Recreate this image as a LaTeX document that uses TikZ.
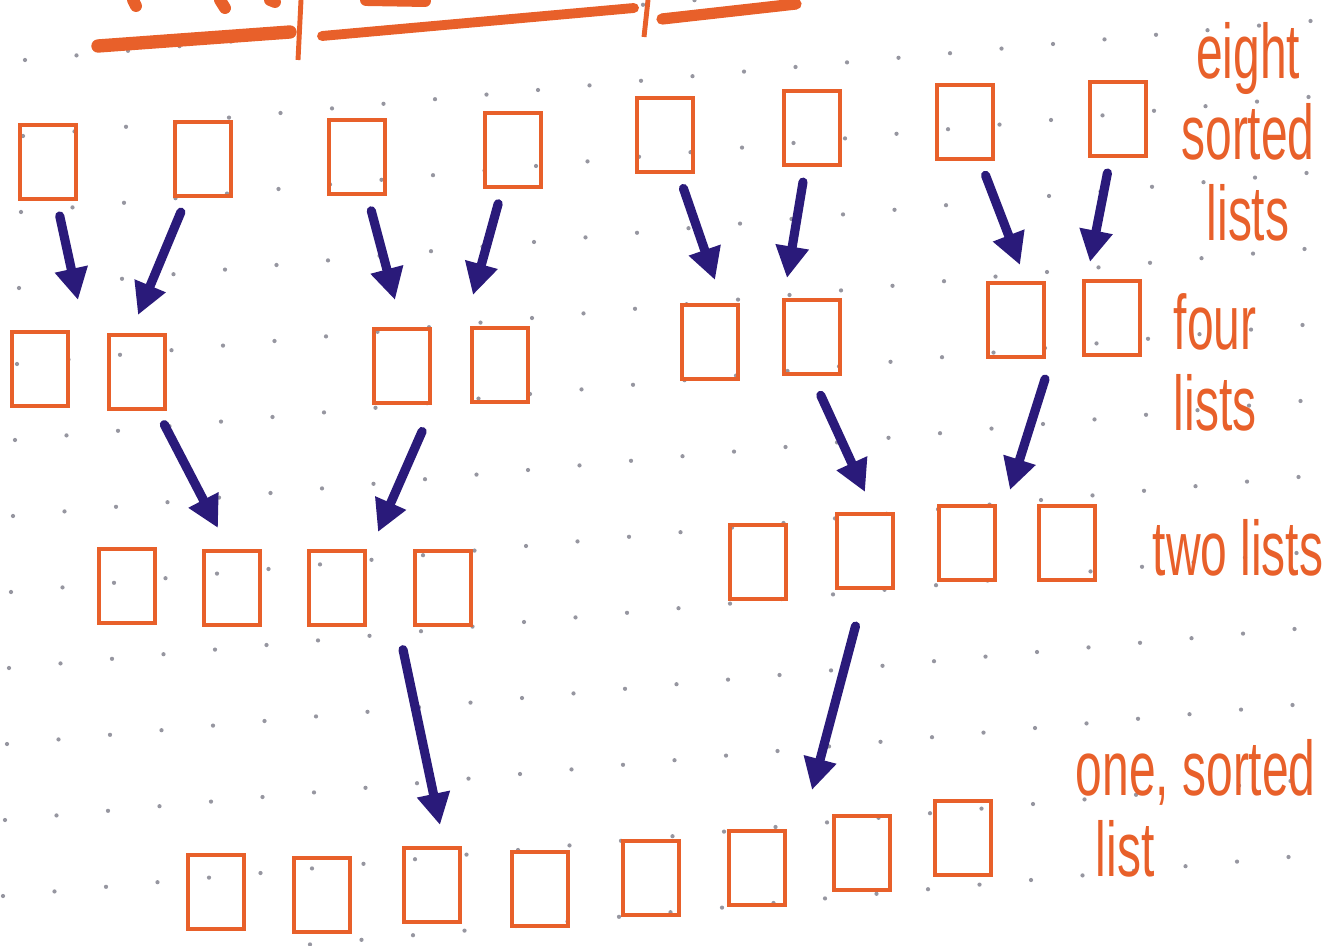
\documentclass[tikz,border=0pt]{standalone}
\usepackage{fontspec}
\setmainfont{Liberation Sans}
\newfontfamily\handfont{Liberation Sans}[FakeStretch=0.62]
\usetikzlibrary{arrows.meta,calc}
\definecolor{pen}{RGB}{232,96,42}
\definecolor{ink}{RGB}{42,26,122}
\definecolor{dotgrey}{RGB}{150,150,160}

\begin{document}
\begin{tikzpicture}[
    x=0.01cm, y=-0.01cm,
    list/.style={draw=pen, line width=1.3pt, minimum width=0.56cm,
      minimum height=0.74cm, inner sep=0pt},
    merge/.style={draw=ink, line width=2.6pt, line cap=round,
      -{Triangle[length=9pt,width=9pt]}, shorten <=0.15cm},
    note/.style={text=pen, font=\handfont\fontsize{22}{23}\selectfont,
      align=center, inner sep=0pt}
  ]
  \useasboundingbox (0,0) rectangle (1337,946);

  % dotted paper
  \begin{scope}
    \clip (0,0) rectangle (1337,946);
    \foreach \i in {-10,...,16}
      \foreach \j in {-8,...,4}
        \fill[dotgrey] ({524+51.5*\i-2*\j},{622+76*\j-4.6*\i}) circle (0.6pt);
  \end{scope}

  % cut-off heading
  \draw[pen, line width=3.8pt, line cap=round] (98,46) -- (290,32);
  \draw[pen, line width=2.8pt, line cap=round] (322,36) -- (634,8);
  \draw[pen, line width=3.2pt, line cap=round] (662,19) -- (796,4);
  \draw[pen, line width=1.4pt] (301,0) -- (298,60) (648,0) -- (644,37);
  \draw[pen, line width=3.4pt, line cap=round]
    (133,0) -- (136,6) (220,0) -- (225,8) (270,0) -- (275,2)
    (366,0) -- (425,1);

  % eight sorted lists
  \foreach \n/\x/\y in {1/48/162, 2/203/159, 3/357/157, 4/513/150,
                        5/665/135, 6/812/128, 7/965/122, 8/1118/119}
    \node[list] (eight\n) at (\x,\y) {};

  % four lists
  \foreach \n/\x/\y in {1/40/369, 2/137/372, 3/402/366, 4/500/365,
                        5/710/342, 6/812/337, 7/1016/320, 8/1112/318}
    \node[list] (four\n) at (\x,\y) {};

  % two lists
  \foreach \n/\x/\y in {1/127/586, 2/232/588, 3/337/588, 4/443/588,
                        5/758/562, 6/865/551, 7/967/543, 8/1067/543}
    \node[list] (two\n) at (\x,\y) {};

  % one sorted list
  \foreach \n/\x/\y in {1/216/892, 2/322/895, 3/432/885, 4/540/889,
                        5/651/878, 6/757/868, 7/862/853, 8/963/838}
    \node[list] (one\n) at (\x,\y) {};

  % merges: eight -> four
  \foreach \n/\x/\y in {1/78/300, 2/138/315, 3/395/300, 4/473/295,
                        5/715/280, 6/787/278, 7/1020/265, 8/1090/262}
  {
    \coordinate (tipa\n) at (\x,\y);
    \draw[merge] (eight\n) -- (tipa\n);
  }

  % merges: four -> two
  \coordinate (tipb1) at (218,528);
  \coordinate (tipb2) at (378,532);
  \coordinate (tipb3) at (865,492);
  \coordinate (tipb4) at (1010,490);
  \draw[merge] (four2) -- (tipb1);
  \draw[merge, shorten <=0.72cm] ($(four3)!.5!(four4)$) -- (tipb2);
  \draw[merge, shorten <=0.21cm] (four6.south) -- (tipb3);
  \draw[merge, shorten <=0.63cm] ($(four7)!.5!(four8)$) -- (tipb4);

  % merges: two -> one
  \coordinate (tipc1) at (440,825);
  \coordinate (tipc2) at (812,790);
  \draw[merge, shorten <=0.63cm] ($(two3)!.5!(two4)$) -- (tipc1);
  \draw[merge, shorten <=0.37cm] (two6.south) -- (tipc2);

  % labels
  \node[note] (eightlab) at (1248,132) {eight\\sorted\\lists};
  \node[note] (fourlab) at (1215,362) {four\\lists};
  \node[note] (twolab) at (1238,548) {two lists};
  \node[note, align=left, anchor=west] (onelab) at (1075,808)
    {one, sorted\\\hspace{0.2cm}list};
\end{tikzpicture}
\end{document}
